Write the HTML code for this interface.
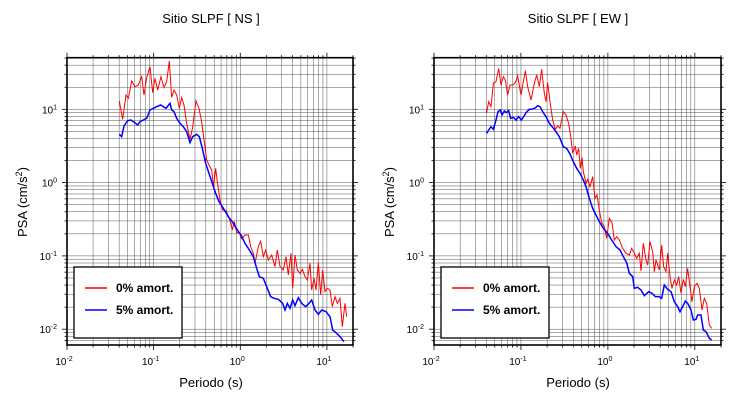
<!DOCTYPE html>
<html><head><meta charset="utf-8"><style>
body{margin:0;background:#fff;}
svg{font-family:"Liberation Sans",sans-serif;}
</style></head><body>
<svg id="s" width="730" height="400" xmlns="http://www.w3.org/2000/svg">
<rect width="730" height="400" fill="#fff"/>
<g id="p1"></g><g id="p2"></g>
<text x="211" y="23" font-size="13" text-anchor="middle">Sitio SLPF [ NS ]</text>
<text x="578" y="23" font-size="13" text-anchor="middle">Sitio SLPF [ EW ]</text>
<text x="211" y="387" font-size="13" text-anchor="middle">Periodo (s)</text>
<text x="578" y="387" font-size="13" text-anchor="middle">Periodo (s)</text>
<text transform="translate(27,202) rotate(-90)" font-size="13" text-anchor="middle">PSA (cm/s<tspan dy="-5" font-size="9">2</tspan><tspan dy="5">)</tspan></text>
<text transform="translate(394,202) rotate(-90)" font-size="13" text-anchor="middle">PSA (cm/s<tspan dy="-5" font-size="9">2</tspan><tspan dy="5">)</tspan></text>
<g transform="translate(0,40) scale(0.33333)" fill="none" stroke-width="1" vector-effect="non-scaling-stroke">
<polyline stroke="#f00" vector-effect="non-scaling-stroke" points="358,183 368,238 378,165 385,175 395,123 405,140 415,135 425,110 432,165 440,113 450,80 458,158 465,115 473,150 483,110 492,143 500,125 508,63 515,172 522,150 530,165 538,205 545,173 552,195 560,250 570,298 578,262 588,183 597,205 605,245 612,300 620,360 627,375 635,390 641,440 647,385 652,425 660,480 668,510 678,512 688,535 697,570 703,545 710,578 718,578 725,596 735,585 745,585 752,620 760,640 765,670 775,620 782,604 790,650 797,630 805,660 815,645 825,680 832,630 840,680 850,690 858,650 865,705 873,640 878,745 885,645 892,690 900,700 907,688 915,710 922,720 930,670 935,750 942,715 948,750 955,668 962,765 968,690 975,755 982,745 990,750 997,800 1005,770 1012,790 1020,775 1027,860 1035,790 1040,830"/>
<polyline stroke="#00f" stroke-width="1.5" vector-effect="non-scaling-stroke" points="358,283 365,290 372,258 383,242 393,240 403,247 413,255 420,245 430,240 440,235 450,210 460,205 470,200 482,195 490,200 498,205 510,190 515,210 522,215 530,235 540,250 550,260 560,275 570,308 578,290 590,283 598,290 607,325 617,370 627,400 637,430 647,460 657,485 670,505 685,530 700,550 712,570 723,585 735,610 748,630 760,650 770,685 778,710 790,715 800,740 812,770 822,775 835,778 848,790 855,810 862,790 870,805 878,780 885,797 895,773 905,790 917,800 927,790 935,780 945,810 955,823 965,810 978,815 990,830 998,870 1010,880 1020,890 1032,905"/>
</g>
<g transform="translate(366,40) scale(0.33333)" fill="none">
<polyline stroke="#f00" stroke-width="1" vector-effect="non-scaling-stroke" points="362,218 368,185 375,200 382,130 390,125 398,85 405,135 412,110 418,120 425,165 432,135 440,135 448,128 455,108 465,165 472,125 478,92 485,140 495,180 505,130 512,105 520,140 527,88 535,160 540,185 545,128 552,185 560,240 568,268 575,258 582,265 592,215 600,225 608,250 615,295 620,340 628,318 632,345 638,325 643,385 648,352 652,395 660,430 665,418 672,440 680,410 687,475 693,465 700,510 707,548 715,560 722,595 730,535 738,548 745,600 752,590 760,600 770,625 780,640 790,645 797,625 805,640 812,655 820,640 825,693 832,610 840,660 845,675 852,605 860,635 865,695 870,660 880,690 887,615 893,680 900,695 905,640 912,710 918,745 925,720 932,735 938,710 945,760 952,718 958,740 965,685 972,740 978,785 985,740 993,730 1000,745 1008,810 1015,775 1022,790 1030,855 1037,865"/>
<polyline stroke="#00f" stroke-width="1.5" vector-effect="non-scaling-stroke" points="362,280 368,270 375,260 382,268 390,240 396,215 403,210 408,225 415,213 420,218 428,212 434,235 442,232 450,240 458,230 466,240 473,230 480,218 490,208 500,207 508,204 515,197 522,200 530,215 540,230 550,250 560,262 570,275 580,290 592,320 602,325 612,342 622,365 632,385 642,400 652,420 660,440 670,475 680,505 690,525 700,545 712,565 725,580 737,600 750,620 762,630 772,650 782,668 790,700 800,710 805,745 815,742 825,750 835,767 848,755 858,760 868,770 880,770 887,775 895,735 905,748 915,755 925,785 935,800 942,815 950,800 958,783 965,790 975,810 982,840 990,838 995,825 1005,825 1012,870 1020,875 1030,895 1037,900"/>
</g>
<g id="leg"></g>
</svg>
<script>
const NS="http://www.w3.org/2000/svg";
function el(p,t,a,txt){const e=document.createElementNS(NS,t);for(const k in a)e.setAttribute(k,a[k]);if(txt!==undefined)e.textContent=txt;p.appendChild(e);return e;}
function plot(g,x0,x1){
  const top=57.7,bot=345,dec=(x1-x0)/Math.log10(2000);
  const X=v=>x0+(Math.log10(v)+2)*dec;
  const Y=v=>109.3-(Math.log10(v)-1)*73.3;
  for(let e=-2;e<=1;e++)for(let k=1;k<10;k++){const v=k*Math.pow(10,e);if(v>20)break;const x=X(v);
    el(g,'line',{x1:x,x2:x,y1:top,y2:bot,stroke:'#555','stroke-width':0.5});
    el(g,'line',{x1:x,x2:x,y1:bot,y2:bot+(k==1?5:2.5),stroke:'#000','stroke-width':0.8});
    el(g,'line',{x1:x,x2:x,y1:top,y2:top-(k==1?5:2.5),stroke:'#000','stroke-width':0.8});}
  for(let e=-3;e<=1;e++)for(let k=1;k<10;k++){const v=k*Math.pow(10,e);const y=Y(v);if(y>bot+0.1||y<top-0.1)continue;
    el(g,'line',{x1:x0,x2:x1,y1:y,y2:y,stroke:'#555','stroke-width':0.5});
    el(g,'line',{x1:x0-(k==1?5:2.5),x2:x0,y1:y,y2:y,stroke:'#000','stroke-width':0.8});
    el(g,'line',{x1:x1,x2:x1+(k==1?5:2.5),y1:y,y2:y,stroke:'#000','stroke-width':0.8});}
  el(g,'rect',{x:x0,y:top,width:x1-x0,height:bot-top,fill:'none',stroke:'#000','stroke-width':1.6});
  for(let e=-2;e<=1;e++){const t=el(g,'text',{x:X(Math.pow(10,e))-3,y:365,'font-size':10,'text-anchor':'middle',fill:'#000'},'10');
    el(t,'tspan',{dy:-4,'font-size':7},String(e));}
  for(let e=-2;e<=1;e++){const t=el(g,'text',{x:x0-10,y:Y(Math.pow(10,e))+4,'font-size':10,'text-anchor':'end',fill:'#000'},'10');
    el(t,'tspan',{dy:-4,'font-size':7},String(e));}
}
plot(document.getElementById('p1'),67,353);
plot(document.getElementById('p2'),434,721);
const L=document.getElementById('leg');
[[74],[441]].forEach(([lx])=>{
  el(L,'rect',{x:lx,y:267,width:108,height:71,fill:'#fff',stroke:'#000','stroke-width':1.3});
  el(L,'line',{x1:lx+11,x2:lx+33,y1:288,y2:288,stroke:'#f00','stroke-width':1.5});
  el(L,'line',{x1:lx+11,x2:lx+33,y1:310,y2:310,stroke:'#00f','stroke-width':1.5});
  el(L,'text',{x:lx+42,y:292,'font-size':12,'font-weight':'bold'},'0% amort.');
  el(L,'text',{x:lx+42,y:314,'font-size':12,'font-weight':'bold'},'5% amort.');
});
</script>
</body></html>
